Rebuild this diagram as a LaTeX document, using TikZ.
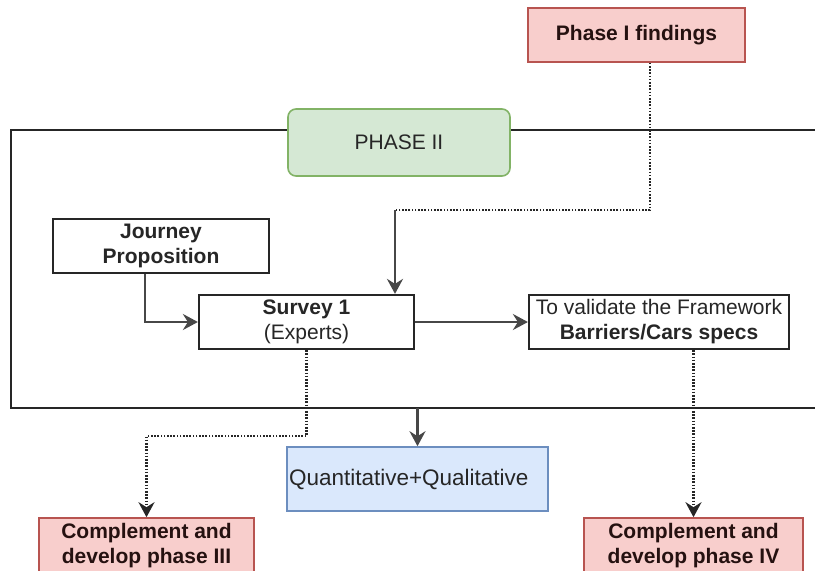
\documentclass[tikz,border=0pt]{standalone}
\usepackage{fontspec}
\setmainfont{Liberation Sans}
\usetikzlibrary{arrows.meta}
\definecolor{ink}{HTML}{262626}
\definecolor{pinkfill}{HTML}{F8CECC}
\definecolor{pinkline}{HTML}{B85450}
\definecolor{greenfill}{HTML}{D5E8D4}
\definecolor{greenline}{HTML}{82B366}
\definecolor{bluefill}{HTML}{DAE8FC}
\definecolor{blueline}{HTML}{6C8EBF}
\tikzset{
  box/.style={draw=ink, line width=2.2pt, fill=white, inner sep=0pt, align=center,
    text=ink, font=\fontsize{21}{25}\selectfont},
  pinkbox/.style={box, line width=1.6pt, draw=pinkline, fill=pinkfill, text=black!80!pinkline},
  greenbox/.style={box, line width=1.6pt, draw=greenline, fill=greenfill, rounded corners=8pt},
  bluebox/.style={box, line width=1.6pt, draw=blueline, fill=bluefill},
  frame/.style={draw=ink, line width=2.2pt},
  tip/.style={-{Stealth[length=15pt,width=16pt,inset=5pt]}},
  solidarrow/.style={draw=ink!85!white, line width=2.4pt, tip},
  dotline/.style={draw=ink, line width=2.6pt, dash pattern=on 1.6pt off 1.6pt},
  dotarrow/.style={dotline, tip},
}
\begin{document}
\begin{tikzpicture}[x=1pt, y=-1pt]
  \useasboundingbox (0,0) rectangle (815,571);
  \fill[white] (0,0) rectangle (815,571);

  % Phase II container (runs off the right edge)
  \draw[frame] (815,130) -- (11,130) -- (11,408) -- (815,408);

  % nodes
  \node[pinkbox, minimum width=217pt, minimum height=54pt] (p1) at (636.5,35) {\bfseries Phase I findings};
  \node[greenbox, minimum width=222pt, minimum height=67pt] (p2) at (399,142.5) {PHASE II};
  \node[box, minimum width=216pt, minimum height=54pt] (journey) at (161,246) {\bfseries Journey\\\bfseries Proposition};
  \node[box, minimum width=215pt, minimum height=54pt] (survey) at (306.5,322) {\bfseries Survey 1\\(Experts)};
  \node[box, minimum width=260pt, minimum height=54pt] (validate) at (659,322) {To validate the Framework\\\bfseries Barriers/Cars specs};
  \node[bluebox, minimum width=261pt, minimum height=64pt, text width=257pt, align=left,
        font=\fontsize{22.5}{26}\selectfont] (quant) at (417.5,479) {Quantitative+Qualitative};
  \node[pinkbox, minimum width=215pt, minimum height=56pt] (c3) at (146.5,546) {\bfseries Complement and\\\bfseries develop phase III};
  \node[pinkbox, minimum width=219pt, minimum height=56pt] (c4) at (693.5,546) {\bfseries Complement and\\\bfseries develop phase IV};

  % connectors
  \coordinate (bend) at (395,210);
  \coordinate (framebottom) at (417.5,408);
  \draw[dotline] ([xshift=13.5pt]p1.south) |- (bend);
  \draw[solidarrow] (bend) -- (bend |- survey.north);
  \draw[solidarrow] ([xshift=-16pt]journey.south) |- (survey.west);
  \draw[solidarrow] (survey.east) -- (validate.west);
  \draw[dotarrow] (survey.south) -- ++(0,86) -| (c3.north);
  \draw[dotarrow] (c4.north |- validate.south) -- (c4.north);
  \draw[solidarrow] (framebottom) -- (quant.north);
\end{tikzpicture}
\end{document}
